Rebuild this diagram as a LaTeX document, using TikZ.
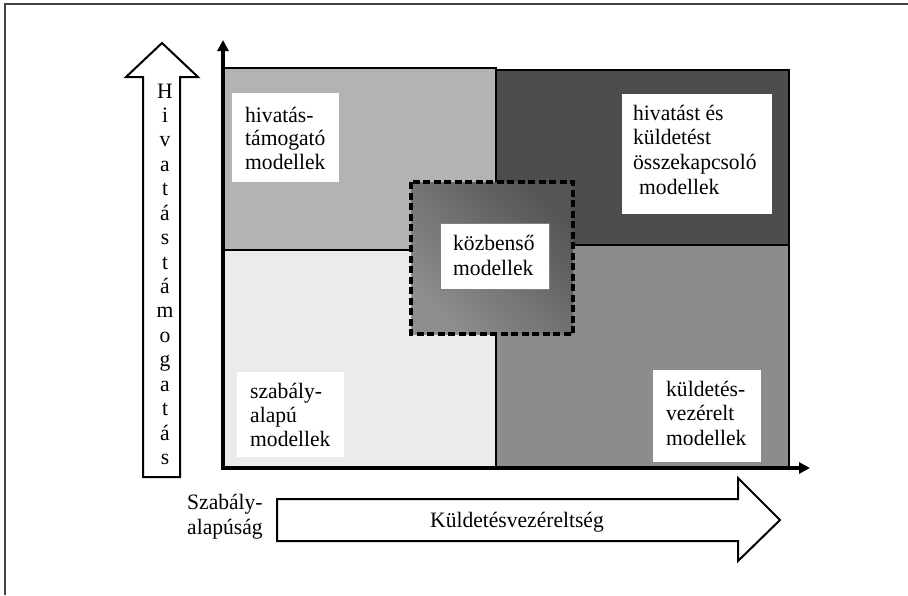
\documentclass[tikz,border=0pt]{standalone}
\usepackage{fontspec}
\setmainfont{Liberation Serif}[FakeStretch=0.98]
\usetikzlibrary{arrows.meta}
\definecolor{qtl}{HTML}{B3B3B3}
\definecolor{qtr}{HTML}{4D4D4D}
\definecolor{qbl}{HTML}{EBEBEB}
\definecolor{qbr}{HTML}{8C8C8C}
\definecolor{framec}{HTML}{444444}
\definecolor{shdark}{HTML}{555555}
\definecolor{shmid}{HTML}{ABABAB}
\definecolor{shlow}{HTML}{8E8E8E}
\begin{document}
\begin{tikzpicture}[x=1pt,y=-1pt,
  font=\fontsize{22}{24}\selectfont,
  quad/.style={draw=black, line width=1.8pt},
  lblbox/.style={fill=white, draw=none, inner sep=0pt},
  ln/.style={anchor=base west, inner sep=0pt},
  hollow/.style={draw=black, fill=white, line width=2pt, line join=miter},
  axisline/.style={line width=4pt, -{Triangle[length=11pt,width=11pt]}}
]
\useasboundingbox (0,0) rectangle (908,595);
% frame
\draw[framec, line width=1.6pt] (5,595) -- (5,4) -- (908,4);

% quadrants
\filldraw[quad, fill=qtl] (223,68) rectangle (496,250);
\filldraw[quad, fill=qtr] (496,70) rectangle (789,245);
\filldraw[quad, fill=qbl] (223,250) rectangle (496,467);
\filldraw[quad, fill=qbr] (496,245) rectangle (789,467);
\draw[line width=2.6pt] (789,70) -- (789,467);

% intermediate dashed area
\shade[shading=axis, top color=shdark, middle color=shmid, bottom color=shlow, shading angle=-45]
  (411,182) rectangle (573,334);
\draw[line width=3.2pt, dash pattern=on 7pt off 3.5pt] (411,182) rectangle (573,334);

% label boxes
\node[lblbox, minimum width=107pt, minimum height=89pt] (b1) at (285.5,137.5) {};
\node[ln] (t1a) at (245,122) {hivatás-};
\node[ln] (t1b) at (245,145.5) {támogató};
\node[ln] (t1c) at (245,169) {modellek};

\node[lblbox, minimum width=150pt, minimum height=120pt] (b2) at (697,154) {};
\node[ln] (t2a) at (633,120) {hivatást és};
\node[ln] (t2b) at (633,144.5) {küldetést};
\node[ln] (t2c) at (633,169) {összekapcsoló};
\node[ln] (t2d) at (639,194) {modellek};

\node[lblbox, draw=gray, line width=0.6pt, minimum width=109pt, minimum height=66pt] (b3) at (494.5,256) {};
\node[ln] (t3a) at (453,250) {közbenső};
\node[ln] (t3b) at (453,275) {modellek};

\node[lblbox, minimum width=107pt, minimum height=85pt] (b4) at (290.5,414.5) {};
\node[ln] (t4a) at (250,398) {szabály-};
\node[ln] (t4b) at (250,422) {alapú};
\node[ln] (t4c) at (250,446.5) {modellek};

\node[lblbox, minimum width=108pt, minimum height=92pt] (b5) at (707,416) {};
\node[ln] (t5a) at (666,396) {küldetés-};
\node[ln] (t5b) at (666,420) {vezérelt};
\node[ln] (t5c) at (666,445) {modellek};

% axes
\coordinate (O) at (223,468);
\coordinate (Ox) at (221,468);
\coordinate (ytip) at (223,40);
\coordinate (xtip) at (810,468);
\draw[axisline] (O) -- (ytip);
\draw[axisline] (Ox) -- (xtip);

% vertical hollow arrow
\draw[hollow] (143,477) -- (143,77) -- (126,77) -- (162,43) -- (198,77) -- (180,77) -- (180,477) -- cycle;
\foreach \ch [count=\i from 0] in {H,i,v,a,t,á,s,t,á,m,o,g,a,t,á,s}
  \node[anchor=base, inner sep=0pt] (v\i) at (165,98+\i*24.43) {\ch};

% horizontal hollow arrow
\draw[hollow] (277,499) -- (738,499) -- (738,478) -- (780,520) -- (738,561) -- (738,541) -- (277,541) -- cycle;
\node[anchor=base, inner sep=0pt] (kv) at (517,527) {Küldetésvezéreltség};

\node[ln] (sz1) at (187,509) {Szabály-};
\node[ln] (sz2) at (187,534) {alapúság};
\end{tikzpicture}
\end{document}
